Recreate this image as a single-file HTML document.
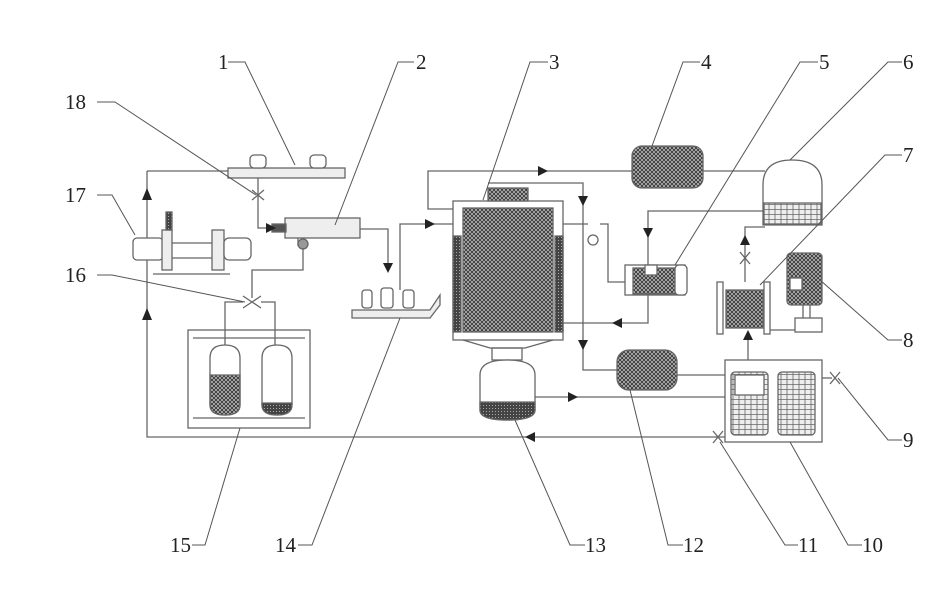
<!DOCTYPE html>
<html><head><meta charset="utf-8"><style>
html,body{margin:0;padding:0;background:#fff;}
svg{display:block}
text{font-family:"Liberation Serif",serif;font-size:21px;fill:#222}
</style></head><body>
<svg width="934" height="591" viewBox="0 0 934 591" xmlns="http://www.w3.org/2000/svg">
<defs>
<pattern id="h" width="4" height="4" patternUnits="userSpaceOnUse"><rect width="4" height="4" fill="#bbb"/><path d="M0 4L4 0M0 0L4 4" stroke="#333" stroke-width="0.9"/></pattern>
<pattern id="d" width="3" height="3" patternUnits="userSpaceOnUse"><rect width="3" height="3" fill="#444"/><rect width="1" height="1" fill="#aaa"/></pattern>
<pattern id="g" width="6" height="5" patternUnits="userSpaceOnUse"><rect width="6" height="5" fill="#eee"/><path d="M0 4.5H6M1 0V5" stroke="#666" stroke-width="0.8"/></pattern>
</defs>
<g fill="none" stroke="#666" stroke-width="1.3">
<!-- left loop -->
<path d="M147 171V437H725"/>
<path d="M147 171H228"/>
<!-- item 1 -->
<rect x="228" y="168" width="117" height="10" fill="#eee"/>
<rect x="250" y="155" width="16" height="13" rx="4" fill="#fff"/>
<rect x="310" y="155" width="16" height="13" rx="4" fill="#fff"/>
<path d="M258 178V228H272"/>
<path d="M252 190L264 200M252 200L264 190"/>
<!-- item 2 -->
<rect x="285" y="218" width="75" height="20" fill="#eee"/>
<rect x="272" y="224" width="14" height="8" fill="#555"/>
<path d="M298 238V246"/><circle cx="303" cy="244" r="5" fill="#999"/>
<path d="M360 229H388V268"/>
<path d="M303 248V270H252V298"/>
<!-- valve 16 -->
<path d="M243 296L261 308M243 308L261 296"/>
<path d="M225 350V302H243M261 302H275V350"/>
<!-- box 15 -->
<rect x="188" y="330" width="122" height="98"/>
<path d="M193 338H305M193 418H305"/>
<path d="M210 358Q210 345 225 345Q240 345 240 358V405Q240 415 225 415Q210 415 210 405Z" fill="#fff"/>
<path d="M210 375H240V405Q240 415 225 415Q210 415 210 405Z" fill="url(#h)"/>
<path d="M262 358Q262 345 277 345Q292 345 292 358V405Q292 415 277 415Q262 415 262 405Z" fill="#fff"/>
<path d="M262 403H292V405Q292 415 277 415Q262 415 262 405Z" fill="url(#d)"/>
<!-- pump 17 -->
<rect x="133" y="238" width="30" height="22" rx="4" fill="#fff"/>
<rect x="162" y="230" width="10" height="40" fill="#eee"/>
<rect x="166" y="212" width="6" height="18" fill="url(#d)"/>
<path d="M172 243H212M172 258H212"/>
<rect x="212" y="230" width="12" height="40" fill="#eee"/>
<rect x="224" y="238" width="27" height="22" rx="5" fill="#fff"/>
<path d="M153 274H230"/>
<!-- tray 14 -->
<path d="M352 310H430L440 295V305L430 318H352Z" fill="#eee"/>
<rect x="362" y="290" width="10" height="18" rx="3" fill="#fff"/>
<rect x="381" y="288" width="12" height="20" rx="3" fill="#fff"/>
<rect x="403" y="290" width="11" height="18" rx="3" fill="#fff"/>
<path d="M400 290V224H453"/>
<!-- vessel 3 loop -->
<path d="M453 209H428V171H632M703 171H765"/>
<path d="M488 183H583V370H617"/>
<rect x="453" y="201" width="110" height="139" fill="#fff"/>
<rect x="463" y="208" width="90" height="124" fill="url(#h)"/>
<rect x="453" y="236" width="8" height="96" fill="url(#d)"/>
<rect x="555" y="236" width="8" height="96" fill="url(#d)"/>
<rect x="488" y="188" width="40" height="13" fill="url(#h)"/>
<path d="M463 340L490 348H525L553 340"/>
<rect x="492" y="348" width="30" height="12"/>
<path d="M480 375Q480 360 507 360Q535 360 535 375V410Q535 420 507 420Q480 420 480 410Z" fill="#fff"/>
<path d="M480 402H535V410Q535 420 507 420Q480 420 480 410Z" fill="url(#d)"/>
<path d="M535 397H725"/>
<!-- to pump 5 -->
<path d="M563 224H588"/><circle cx="593" cy="240" r="5" fill="#fff"/>
<path d="M600 224H608V282H625"/>
<rect x="625" y="265" width="60" height="30" fill="#fff"/>
<rect x="633" y="268" width="42" height="26" fill="url(#h)"/>
<rect x="645" y="265" width="12" height="10" fill="#fff"/>
<rect x="675" y="265" width="12" height="30" rx="4" fill="#fff"/>
<path d="M648 265V211H765"/>
<path d="M648 295V323H563"/>
<!-- filter 4 -->
<rect x="632" y="146" width="71" height="42" rx="10" fill="url(#h)"/>
<!-- tank 6 -->
<path d="M763 225V185Q763 160 792 160Q822 160 822 185V225Z" fill="#fff"/>
<rect x="764" y="203" width="57" height="21" fill="url(#g)"/>
<path d="M765 227H745V282"/>
<path d="M740 252L750 264M740 264L750 252"/>
<!-- item 7 -->
<rect x="717" y="282" width="6" height="52"/>
<rect x="764" y="282" width="6" height="52"/>
<rect x="726" y="290" width="37" height="38" fill="url(#h)"/>
<path d="M770 330H795"/>
<path d="M748 360V333"/>
<!-- motor 8 -->
<rect x="787" y="253" width="35" height="52" rx="4" fill="url(#h)"/>
<rect x="790" y="278" width="12" height="12" fill="#fff"/>
<rect x="795" y="318" width="27" height="14"/>
<path d="M803 305V318M810 305V318"/>
<!-- box 10 -->
<rect x="725" y="360" width="97" height="82" fill="#fff"/>
<rect x="731" y="372" width="37" height="63" rx="4" fill="url(#g)"/>
<rect x="735" y="375" width="29" height="20" fill="#fff"/>
<rect x="778" y="372" width="37" height="63" rx="4" fill="url(#g)"/>
<path d="M822 378H832"/>
<path d="M830 372L840 384M830 384L840 372"/>
<path d="M713 431L723 443M713 443L723 431"/>
<!-- tank 12 -->
<path d="M677 375H725"/>
<rect x="617" y="350" width="60" height="40" rx="12" fill="url(#h)"/>
</g>
<!-- arrows -->
<g fill="#222">
<path d="M142 200L147 188L152 200Z"/>
<path d="M142 320L147 308L152 320Z"/>
<path d="M266 223L276 228L266 233Z"/>
<path d="M383 263L388 273L393 263Z"/>
<path d="M425 219L435 224L425 229Z"/>
<path d="M538 166L548 171L538 176Z"/>
<path d="M578 196L583 206L588 196Z"/>
<path d="M578 340L583 350L588 340Z"/>
<path d="M643 228L648 238L653 228Z"/>
<path d="M622 318L612 323L622 328Z"/>
<path d="M740 245L745 235L750 245Z"/>
<path d="M743 340L748 330L753 340Z"/>
<path d="M568 392L578 397L568 402Z"/>
<path d="M535 432L525 437L535 442Z"/>
</g>
<!-- leaders -->
<g fill="none" stroke="#555" stroke-width="1">
<path d="M228 62H245L295 165"/>
<path d="M414 62H398L335 225"/>
<path d="M548 62H530L483 200"/>
<path d="M700 62H683L652 146"/>
<path d="M818 62H800L675 265"/>
<path d="M902 62H888L790 160"/>
<path d="M902 155H885L760 285"/>
<path d="M902 340H888L820 280"/>
<path d="M902 440H888L838 378"/>
<path d="M862 545H848L790 442"/>
<path d="M798 545H785L720 442"/>
<path d="M683 545H668L630 390"/>
<path d="M585 545H570L515 420"/>
<path d="M298 545H312L400 318"/>
<path d="M192 545H205L240 428"/>
<path d="M97 275H112L245 302"/>
<path d="M97 195H112L135 235"/>
<path d="M97 102H115L256 195"/>
</g>
<g>
<text x="218" y="69">1</text>
<text x="416" y="69">2</text>
<text x="549" y="69">3</text>
<text x="701" y="69">4</text>
<text x="819" y="69">5</text>
<text x="903" y="69">6</text>
<text x="903" y="162">7</text>
<text x="903" y="347">8</text>
<text x="903" y="447">9</text>
<text x="862" y="552">10</text>
<text x="798" y="552">11</text>
<text x="683" y="552">12</text>
<text x="585" y="552">13</text>
<text x="275" y="552">14</text>
<text x="170" y="552">15</text>
<text x="65" y="282">16</text>
<text x="65" y="202">17</text>
<text x="65" y="109">18</text>
</g>
</svg>
</body></html>
